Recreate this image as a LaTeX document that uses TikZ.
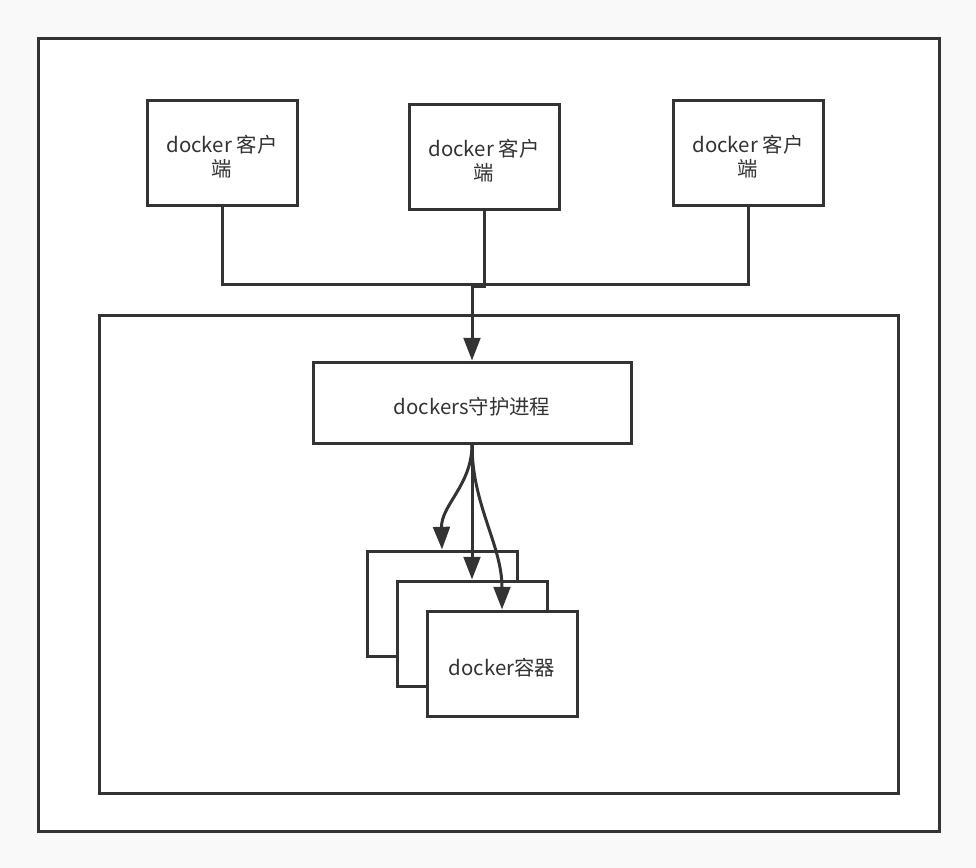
\documentclass[tikz,border=0pt]{standalone}
\usepackage{fontspec}
\setmainfont{Noto Sans CJK SC}
\usetikzlibrary{arrows.meta}
\definecolor{ink}{HTML}{333333}
\definecolor{bg}{HTML}{F9F9F9}
\tikzset{
  box/.style={draw=ink, line width=2.25pt, fill=white, inner sep=0pt},
  txt/.style={inner sep=0pt, font=\fontsize{15.3}{18}\selectfont, text=ink, align=center},
  conn/.style={draw=ink, line width=2.25pt},
  arr/.style={conn, -{Triangle[length=17pt,width=12.5pt]}}
}
\begin{document}
\begin{tikzpicture}[x=0.75pt,y=-0.75pt]
\fill[bg] (0,0) rectangle (976,868);
\useasboundingbox (0,0) rectangle (976,868);
\draw[draw=ink, line width=2.25pt, fill=white] (38,38) rectangle (939,831);
\draw[draw=ink, line width=2.25pt, fill=white] (99,315) rectangle (898,793);
\node[box, minimum width=112.5pt, minimum height=78.75pt] (c1) at (222,152.5) {};
\node[box, minimum width=112.5pt, minimum height=78.75pt] (c2) at (484,157) {};
\node[box, minimum width=112.5pt, minimum height=78.75pt] (c3) at (748,152.5) {};
\node[box, minimum width=238.5pt, minimum height=60.75pt] (d) at (472,402.5) {};
\node[box, minimum width=112.5pt, minimum height=78.75pt] (k1) at (442,603.5) {};
\node[box, minimum width=112.5pt, minimum height=78.75pt] (k2) at (472,633.5) {};
\node[box, minimum width=112.5pt, minimum height=78.75pt] (k3) at (502,663.5) {};
\node[txt] (t1) at ([yshift=-3pt]c1.center) {docker 客户\\端};
\node[txt] (t2) at ([yshift=-3pt]c2.center) {docker 客户\\端};
\node[txt] (t3) at ([yshift=-3pt]c3.center) {docker 客户\\端};
\node[txt] (td) at ([yshift=-3pt]d.center) {dockers守护进程};
\node[txt] (tk) at ([yshift=-3pt]k3.center) {docker容器};
\coordinate (j1) at (222,284);
\coordinate (j3) at (748,284);
\coordinate (j2) at (484,286);
\coordinate (j2b) at (472,286);
\draw[conn] (c1.south) -- (j1) -- (j3) -- (c3.south);
\draw[conn] (c2.south) -- (j2) -- (j2b);
\draw[arr] (j2b) -- (d.north);
\draw[arr] (d.south) .. controls (472,485) and (441,505) .. (k1.north);
\draw[arr] (d.south) -- (k2.north);
\draw[arr] (d.south) .. controls (472,505) and (502,545) .. (k3.north);
\end{tikzpicture}
\end{document}
